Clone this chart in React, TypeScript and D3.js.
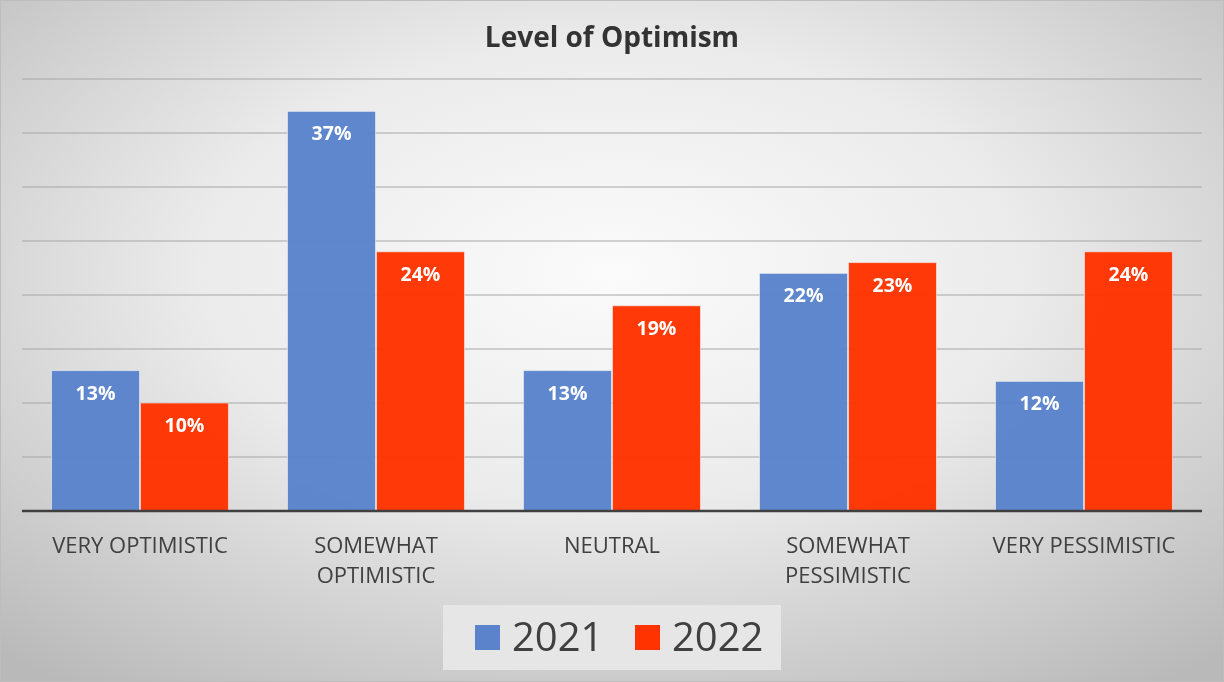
import React from "react";
import * as d3 from "d3";

const categories: string[][] = [
  ["VERY OPTIMISTIC"],
  ["SOMEWHAT", "OPTIMISTIC"],
  ["NEUTRAL"],
  ["SOMEWHAT", "PESSIMISTIC"],
  ["VERY PESSIMISTIC"],
];
const seriesNames = ["2021", "2022"];
const values2021 = [13, 37, 13, 22, 12];
const values2022 = [10, 24, 19, 23, 24];
const gridTicks = [5, 10, 15, 20, 25, 30, 35, 40];
const colors = ["#5A83CB", "#FF3300"];

const W = 1224;
const H = 682;
const FONT = "'Open Sans', Lato, sans-serif";

export default function App() {
  const series = [values2021, values2022];
  const y = d3.scaleLinear().domain([0, 40]).range([511, 79]);
  const x0 = d3
    .scaleBand<number>()
    .domain(d3.range(categories.length))
    .range([22, 1202])
    .paddingInner(0.246)
    .paddingOuter(0.123);
  const x1 = d3
    .scaleBand<number>()
    .domain(d3.range(seriesNames.length))
    .range([0, x0.bandwidth()])
    .padding(0);

  return (
    <svg
      width={W}
      height={H}
      style={{ position: "fixed", left: 0, top: 0 }}
      xmlns="http://www.w3.org/2000/svg"
    >
      <defs>
        <radialGradient id="bg" cx="50%" cy="40%" r="75%">
          <stop offset="0%" stopColor="#fbfbfb" />
          <stop offset="45%" stopColor="#ebebeb" />
          <stop offset="100%" stopColor="#b9b9b9" />
        </radialGradient>
      </defs>
      <rect x={0} y={0} width={W} height={H} fill="url(#bg)" />
      <rect x={0.5} y={0.5} width={W - 1} height={H - 1} fill="none" stroke="#bdbdbd" />
      <text
        x={612}
        y={47}
        textAnchor="middle"
        fontFamily={FONT}
        fontWeight="bold"
        fontSize={28}
        fill="#333333"
      >
        Level of Optimism
      </text>
      {gridTicks.map((t) => (
        <line
          key={t}
          x1={22}
          x2={1202}
          y1={y(t)}
          y2={y(t)}
          stroke="#a6a6a6"
          strokeWidth={1}
        />
      ))}
      {categories.map((cat, i) =>
        series.map((vals, s) => {
          const bx = (x0(i) as number) + (x1(s) as number);
          const bw = x1.bandwidth();
          const top = y(vals[i]);
          return (
            <g key={`${i}-${s}`}>
              <rect
                x={bx + 0.5}
                y={top}
                width={bw - 1}
                height={y(0) - top}
                fill={colors[s]}
                fillOpacity={0.97}
                stroke="#f2f2f2"
                strokeOpacity={0.6}
                strokeWidth={1}
              />
              <text
                x={bx + bw / 2}
                y={top + 29}
                textAnchor="middle"
                fontFamily={FONT}
                fontWeight="bold"
                fontSize={19.5}
                fill="#ffffff"
              >
                {vals[i]}%
              </text>
            </g>
          );
        })
      )}
      <line x1={22} x2={1202} y1={y(0)} y2={y(0)} stroke="#404040" strokeWidth={2.5} />
      {categories.map((cat, i) => (
        <text
          key={i}
          x={(x0(i) as number) + x0.bandwidth() / 2}
          y={553}
          textAnchor="middle"
          fontFamily={FONT}
          fontSize={22}
          fill="#404040"
        >
          {cat.map((line, k) => (
            <tspan key={k} x={(x0(i) as number) + x0.bandwidth() / 2} dy={k === 0 ? 0 : 30}>
              {line}
            </tspan>
          ))}
        </text>
      ))}
      <rect x={443} y={605} width={338} height={65} fill="#e6e6e6" />
      {seriesNames.map((name, s) => {
        const lx = 475 + s * 160;
        return (
          <g key={name}>
            <rect x={lx} y={625} width={25} height={25} fill={colors[s]} />
            <text
              x={lx + 37}
              y={651}
              fontFamily={FONT}
              fontSize={40}
              fill="#404040"
            >
              {name}
            </text>
          </g>
        );
      })}
    </svg>
  );
}
